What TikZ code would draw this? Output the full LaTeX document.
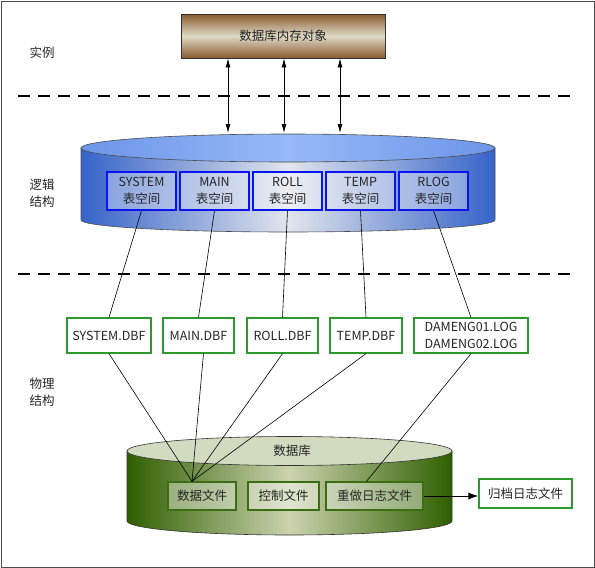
\documentclass[tikz,border=0pt]{standalone}
\usepackage{fontspec}
\setmainfont{Noto Sans CJK SC}
\usetikzlibrary{arrows.meta}
\definecolor{memobrown}{HTML}{8A5A2E}
\definecolor{memolight}{HTML}{DEDAC6}
\definecolor{cylblue}{HTML}{3563C9}
\definecolor{cylwhite}{HTML}{E2E5EC}
\definecolor{topblue}{HTML}{6C96EA}
\definecolor{toplight}{HTML}{98B8F6}
\definecolor{tsblue}{HTML}{0A14F0}
\definecolor{filegreen}{HTML}{2E9A2E}
\definecolor{cylgreen}{HTML}{2F5F00}
\definecolor{greenlight}{HTML}{CBD3AE}
\definecolor{topgreen}{HTML}{D2DAC0}
\definecolor{dbgreen}{HTML}{3B6E12}

\begin{document}
\begin{tikzpicture}[x=1pt, y=-1pt,
  every node/.style={font=\fontsize{12.5}{17}\selectfont, text=black!85},
  memobox/.style={draw=black!80, line width=0.8pt, top color=memobrown, bottom color=memobrown, middle color=memolight, minimum width=204pt, minimum height=44pt},
  tsbox/.style={draw=tsblue, line width=1.3pt, fill=white, fill opacity=0.35, text opacity=1, minimum width=69pt, minimum height=38pt, inner sep=1pt, align=center},
  filebox/.style={draw=filegreen, line width=1.3pt, fill=white, minimum height=35pt, inner sep=2pt, align=center},
  dbbox/.style={draw=dbgreen, line width=1.3pt, fill=white, fill opacity=0.4, text opacity=1, minimum height=28pt, inner sep=2pt},
  link/.style={black, line width=0.6pt},
  sep/.style={black, line width=1.6pt, dash pattern=on 12pt off 8pt},
  dbl/.style={{Latex[length=9pt,width=5pt]}-{Latex[length=9pt,width=5pt]}, line width=0.8pt}]
  \useasboundingbox (0,0) rectangle (595,568);
  \draw[black!70, line width=0.8pt] (1,1) rectangle (594,567);

  \node (inst) at (42,53) {实例};
  \node[align=center] (logic) at (42,193) {逻辑\\结构};
  \node[align=center] (phys) at (42,392) {物理\\结构};

  \draw[sep] (18,96) -- (572,96);
  \draw[sep] (18,274) -- (572,274);

  % blue cylinder
  \shade[left color=cylblue, right color=cylblue, middle color=cylwhite] (81,148) -- (81,220) arc[start angle=180, end angle=360, x radius=207pt, y radius=12pt] -- (495,148) -- cycle;
  \draw[black!70, line width=0.6pt] (81,148) -- (81,220) arc[start angle=180, end angle=360, x radius=207pt, y radius=12pt] -- (495,148);
  \shade[left color=topblue, right color=topblue, middle color=toplight, draw=black!70, line width=0.6pt] (288,148) ellipse[x radius=207pt, y radius=14pt];

  % green cylinder
  \shade[left color=cylgreen, right color=cylgreen, middle color=greenlight] (127,451) -- (127,521) arc[start angle=180, end angle=360, x radius=162.5pt, y radius=14pt] -- (452,451) -- cycle;
  \draw[black!80, line width=0.6pt] (127,451) -- (127,521) arc[start angle=180, end angle=360, x radius=162.5pt, y radius=14pt] -- (452,451);
  \fill[topgreen, draw=black!80, line width=0.6pt] (289.5,451) ellipse[x radius=162.5pt, y radius=14.5pt];
  \node (db) at (292,451) {数据库};

  \node[memobox] (memobj) at (283,36) {数据库内存对象};

  \node[tsbox] (tsys) at (141.5,191) {SYSTEM\\表空间};
  \node[tsbox] (tmain) at (214.5,191) {MAIN\\表空间};
  \node[tsbox] (troll) at (287.5,191) {ROLL\\表空间};
  \node[tsbox] (ttemp) at (360.5,191) {TEMP\\表空间};
  \node[tsbox] (trlog) at (433.5,191) {RLOG\\表空间};

  \node[filebox, minimum width=84pt] (fsys) at (109,335.5) {SYSTEM.DBF};
  \node[filebox, minimum width=71pt] (fmain) at (198.5,335.5) {MAIN.DBF};
  \node[filebox, minimum width=71pt] (froll) at (282.5,335.5) {ROLL.DBF};
  \node[filebox, minimum width=72pt] (ftemp) at (366,335.5) {TEMP.DBF};
  \node[filebox, minimum width=114pt] (flog) at (471,335.5) {DAMENG01.LOG\\DAMENG02.LOG};

  \node[dbbox, minimum width=68pt] (datafile) at (202,496) {数据文件};
  \node[dbbox, minimum width=71pt] (ctlfile) at (283.5,496) {控制文件};
  \node[dbbox, minimum width=97pt] (redofile) at (374.5,496) {重做日志文件};
  \node[filebox, minimum width=93pt, minimum height=29pt] (archive) at (525.5,493.5) {归档日志文件};

  \coordinate (up1) at (228,133);
  \coordinate (up2) at (284,133);
  \coordinate (up3) at (340,133);
  \draw[dbl] (memobj.south -| up1) -- (up1);
  \draw[dbl] (memobj.south -| up2) -- (up2);
  \draw[dbl] (memobj.south -| up3) -- (up3);

  \draw[link] (tsys.south) -- (fsys.north);
  \draw[link] (tmain.south) -- (fmain.north);
  \draw[link] (troll.south) -- (froll.north);
  \draw[link] (ttemp.south) -- (ftemp.north);
  \draw[link] (trlog.south) -- (flog.north);

  \coordinate (hub) at ([xshift=-10pt]datafile.north);
  \draw[link] (fsys.south) -- (hub);
  \draw[link] ([xshift=5pt]fmain.south) -- (hub);
  \draw[link] (froll.south) -- (hub);
  \draw[link] (ftemp.south) -- (hub);
  \draw[link] (flog.south) -- ([xshift=-8pt]redofile.north);

  \draw[-{Latex[length=10pt,width=7pt]}, line width=0.9pt] (redofile.east) -- (redofile.east -| archive.west);
\end{tikzpicture}
\end{document}
